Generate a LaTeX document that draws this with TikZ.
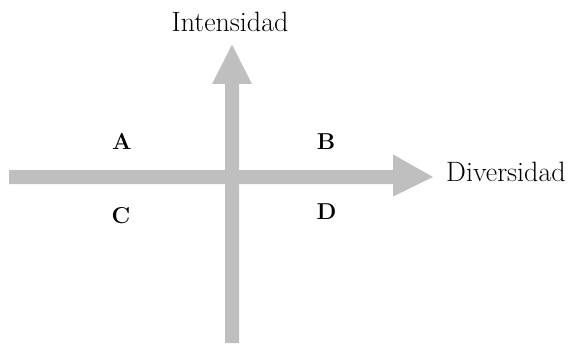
\documentclass[tikz,border=0pt]{standalone}
\begin{document}
\begin{tikzpicture}[x=1pt,y=1pt,
  axisfill/.style={fill=black!25},
  axlabel/.style={font=\fontsize{28}{32}\selectfont, inner sep=0pt},
  quad/.style={font=\fontsize{23}{27}\selectfont\bfseries, inner sep=0pt}]
\useasboundingbox (0,0) rectangle (572,343);
% vertical axis (y measured from top: ytikz = 343 - y)
\coordinate (vb) at (232,0);
\coordinate (vt) at (232,298.3);
\fill[axisfill] (225,0) -- (225,259) -- (212,259) -- (vt) -- (252,259) -- (239,259) -- (239,0) -- cycle;
% horizontal axis
\coordinate (hl) at (9,166);
\coordinate (hr) at (433,166);
\fill[axisfill] (9,159) -- (393,159) -- (393,146.5) -- (hr) -- (393,188.5) -- (393,173) -- (9,173) -- cycle;
\node[axlabel, anchor=base] (int) at (230,311.3) {Intensidad};
\node[axlabel, anchor=base west] (div) at (446,161) {Diversidad};
\node[quad] (A) at (122,201.5) {A};
\node[quad] (B) at (326,201.5) {B};
\node[quad] (C) at (121,127) {C};
\node[quad] (D) at (326.5,131) {D};
\end{tikzpicture}
\end{document}
